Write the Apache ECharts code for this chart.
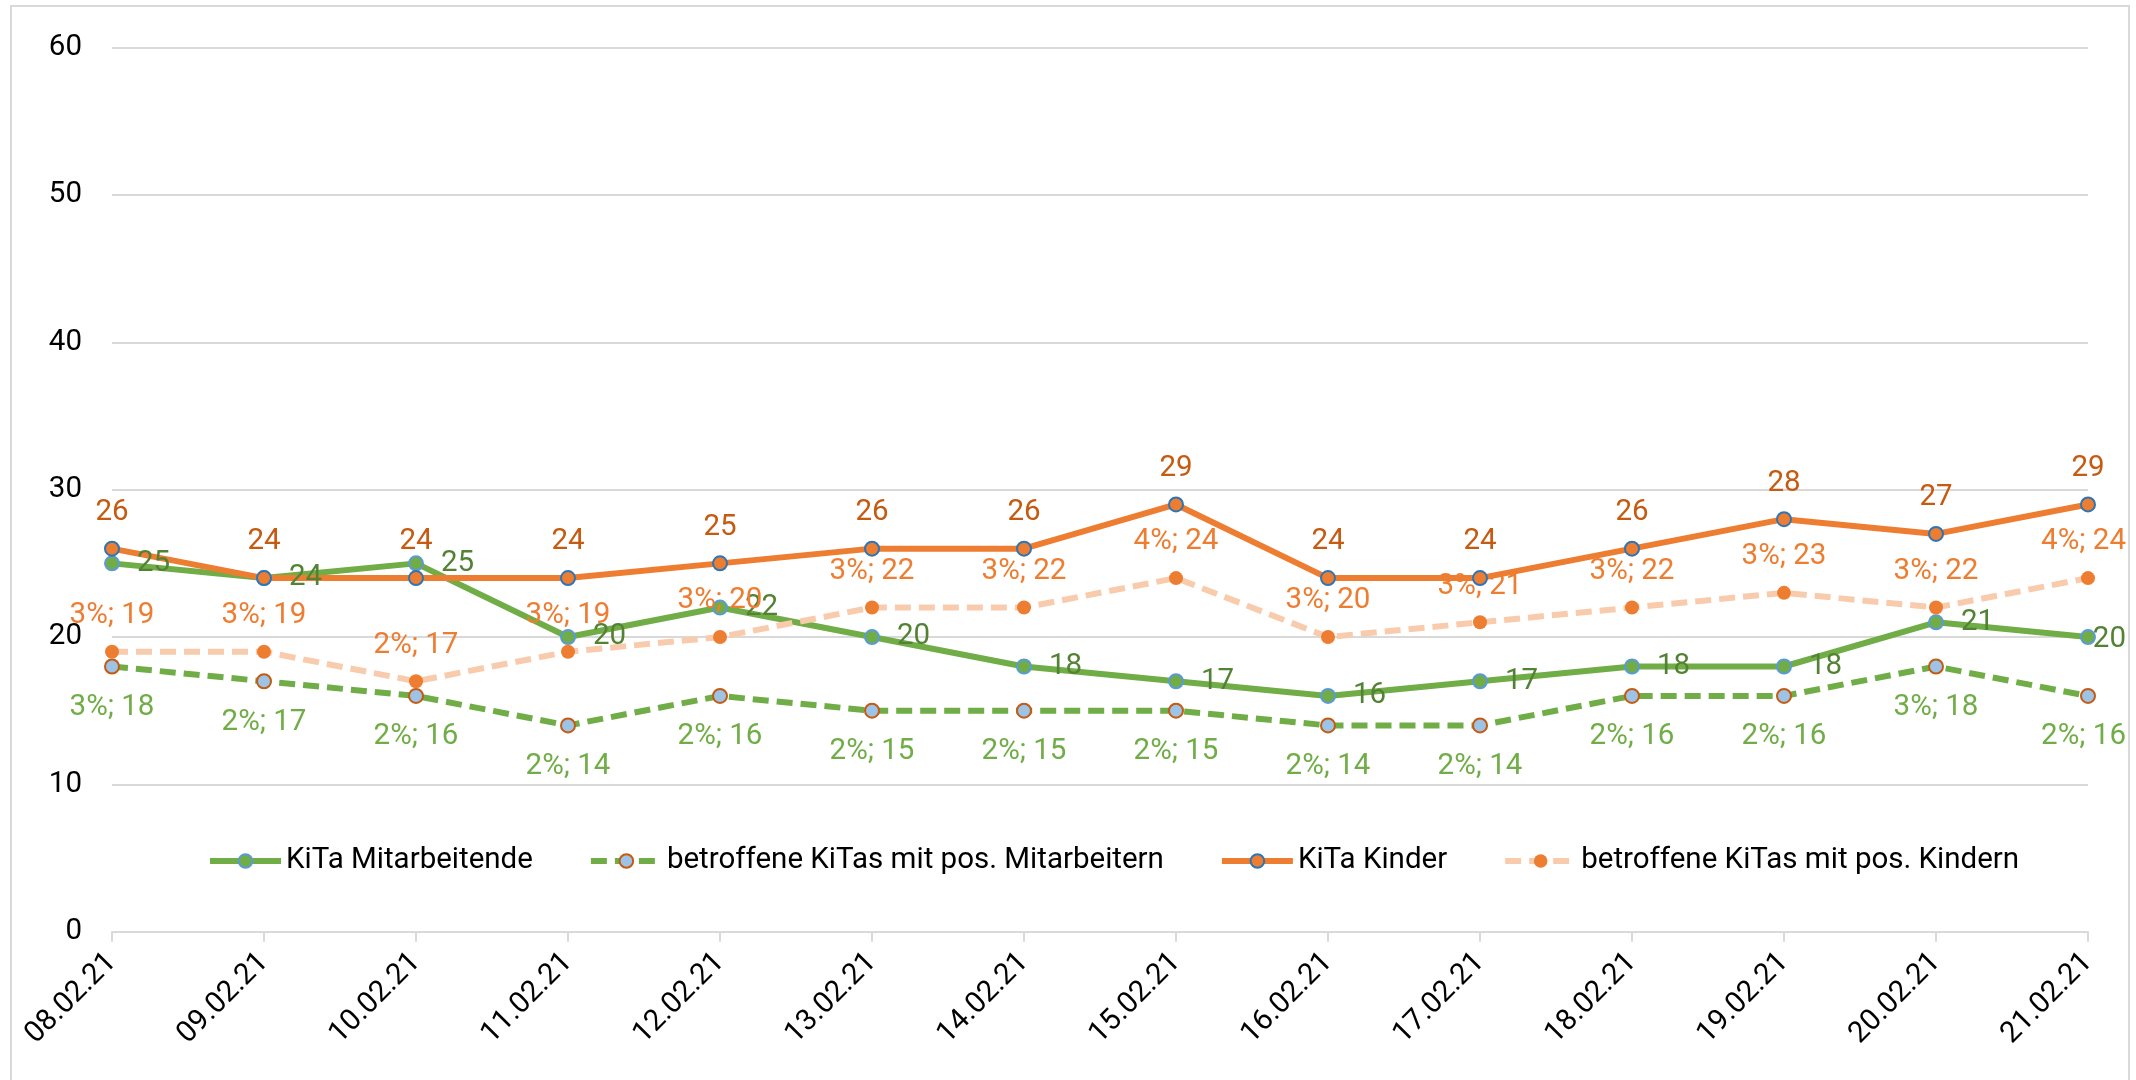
<!DOCTYPE html>
<html>
<head>
<meta charset="utf-8">
<title>KiTa Fälle</title>
<script src="https://cdn.jsdelivr.net/npm/echarts@6/dist/echarts.min.js"></script>
<style>
    html, body { margin: 0; padding: 0; background: #fff; }
    #chart { width: 2136px; height: 1080px; }
</style>
</head>
<body>
<div id="chart"></div>
<script>
// Tage
const days = ['08.02.21', '09.02.21', '10.02.21', '11.02.21', '12.02.21', '13.02.21', '14.02.21',
    '15.02.21', '16.02.21', '17.02.21', '18.02.21', '19.02.21', '20.02.21', '21.02.21'];
// Werte je Reihe
const mitarbeitende = [25, 24, 25, 20, 22, 20, 18, 17, 16, 17, 18, 18, 21, 20];
const kitasMitarbeiter = [18, 17, 16, 14, 16, 15, 15, 15, 14, 14, 16, 16, 18, 16];
const kitasMitarbeiterPct = [3, 2, 2, 2, 2, 2, 2, 2, 2, 2, 2, 2, 3, 2];
const kinder = [26, 24, 24, 24, 25, 26, 26, 29, 24, 24, 26, 28, 27, 29];
const kitasKinder = [19, 19, 17, 19, 20, 22, 22, 24, 20, 21, 22, 23, 22, 24];
const kitasKinderPct = [3, 3, 2, 3, 3, 3, 3, 4, 3, 3, 3, 3, 3, 4];
// y-Achse
const yMin = 0, yMax = 60, yStep = 10;

const font = 'Roboto';
const fs = 29.5;
const lw = 6;
const rightLimit = 2126;

const chart = echarts.init(document.getElementById('chart'));

// Beschriftungen am rechten Rand nach innen schieben (wie Excel)
const keepInside = function (params) {
    const r = params.labelRect;
    if (r.x + r.width > rightLimit) {
        return { x: rightLimit - r.width, y: r.y, align: 'left', verticalAlign: 'top' };
    }
    return {};
};

const option = {
    animation: false,
    backgroundColor: '#fff',
    textStyle: { fontFamily: font },
    graphic: [{
        type: 'rect',
        shape: { x: 11, y: 6, width: 2118, height: 1200 },
        style: { fill: 'none', stroke: '#D9D9D9', lineWidth: 2 },
        silent: true
    }],
    grid: { left: 112, right: 48, top: 47.7, bottom: 148.3, containLabel: false },
    legend: {
        left: 202,
        top: 841,
        itemWidth: 71,
        itemHeight: 17,
        itemGap: 55,
        lineStyle: { width: lw },
        textStyle: { fontFamily: font, fontSize: fs, color: '#000' },
        data: ['KiTa Mitarbeitende', 'betroffene KiTas mit pos. Mitarbeitern', 'KiTa Kinder', 'betroffene KiTas mit pos. Kindern']
    },
    xAxis: {
        type: 'category',
        data: days,
        boundaryGap: false,
        axisLine: { lineStyle: { color: '#D9D9D9', width: 2 } },
        axisTick: { show: true, length: 10, lineStyle: { color: '#D9D9D9', width: 2 } },
        axisLabel: { rotate: 45, margin: 26, fontFamily: font, fontSize: fs, color: '#000', interval: 0 }
    },
    yAxis: {
        type: 'value',
        min: yMin,
        max: yMax,
        interval: yStep,
        axisLine: { show: false },
        axisTick: { show: false },
        splitLine: { lineStyle: { color: '#D9D9D9', width: 2 } },
        axisLabel: { margin: 30, fontFamily: font, fontSize: fs, color: '#000' }
    },
    series: [
        {
            name: 'KiTa Mitarbeitende',
            type: 'line',
            data: mitarbeitende,
            symbol: 'circle',
            symbolSize: 14,
            lineStyle: { color: '#70AD47', width: lw },
            itemStyle: { color: '#70AD47', borderColor: '#5B9BD5', borderWidth: 2 },
            label: {
                show: true, position: 'right', distance: 17, offset: [0, 3],
                fontFamily: font, fontSize: fs, color: '#548235'
            },
            labelLayout: keepInside
        },
        {
            name: 'betroffene KiTas mit pos. Mitarbeitern',
            type: 'line',
            data: kitasMitarbeiter,
            symbol: 'circle',
            symbolSize: 14,
            lineStyle: { color: '#70AD47', width: lw, type: [16, 8] },
            itemStyle: { color: '#9DC3E6', borderColor: '#C55A11', borderWidth: 2 },
            label: {
                show: true, position: 'bottom', distance: 18,
                fontFamily: font, fontSize: fs, color: '#70AD47',
                formatter: p => kitasMitarbeiterPct[p.dataIndex] + '%; ' + p.value
            },
            labelLayout: keepInside
        },
        {
            name: 'KiTa Kinder',
            type: 'line',
            data: kinder,
            symbol: 'circle',
            symbolSize: 14,
            lineStyle: { color: '#ED7D31', width: lw },
            itemStyle: { color: '#ED7D31', borderColor: '#2E75B6', borderWidth: 2 },
            label: {
                show: true, position: 'top', distance: 13,
                fontFamily: font, fontSize: fs, color: '#C55A11'
            },
            labelLayout: keepInside
        },
        {
            name: 'betroffene KiTas mit pos. Kindern',
            type: 'line',
            data: kitasKinder,
            symbol: 'circle',
            symbolSize: 14,
            lineStyle: { color: '#F8CBAD', width: lw, type: [16, 8] },
            itemStyle: { color: '#ED7D31', borderColor: '#ED7D31', borderWidth: 0 },
            label: {
                show: true, position: 'top', distance: 14,
                fontFamily: font, fontSize: fs, color: '#ED7D31',
                formatter: p => kitasKinderPct[p.dataIndex] + '%; ' + p.value
            },
            labelLayout: keepInside
        }
    ]
};

chart.setOption(option);
</script>
</body>
</html>
